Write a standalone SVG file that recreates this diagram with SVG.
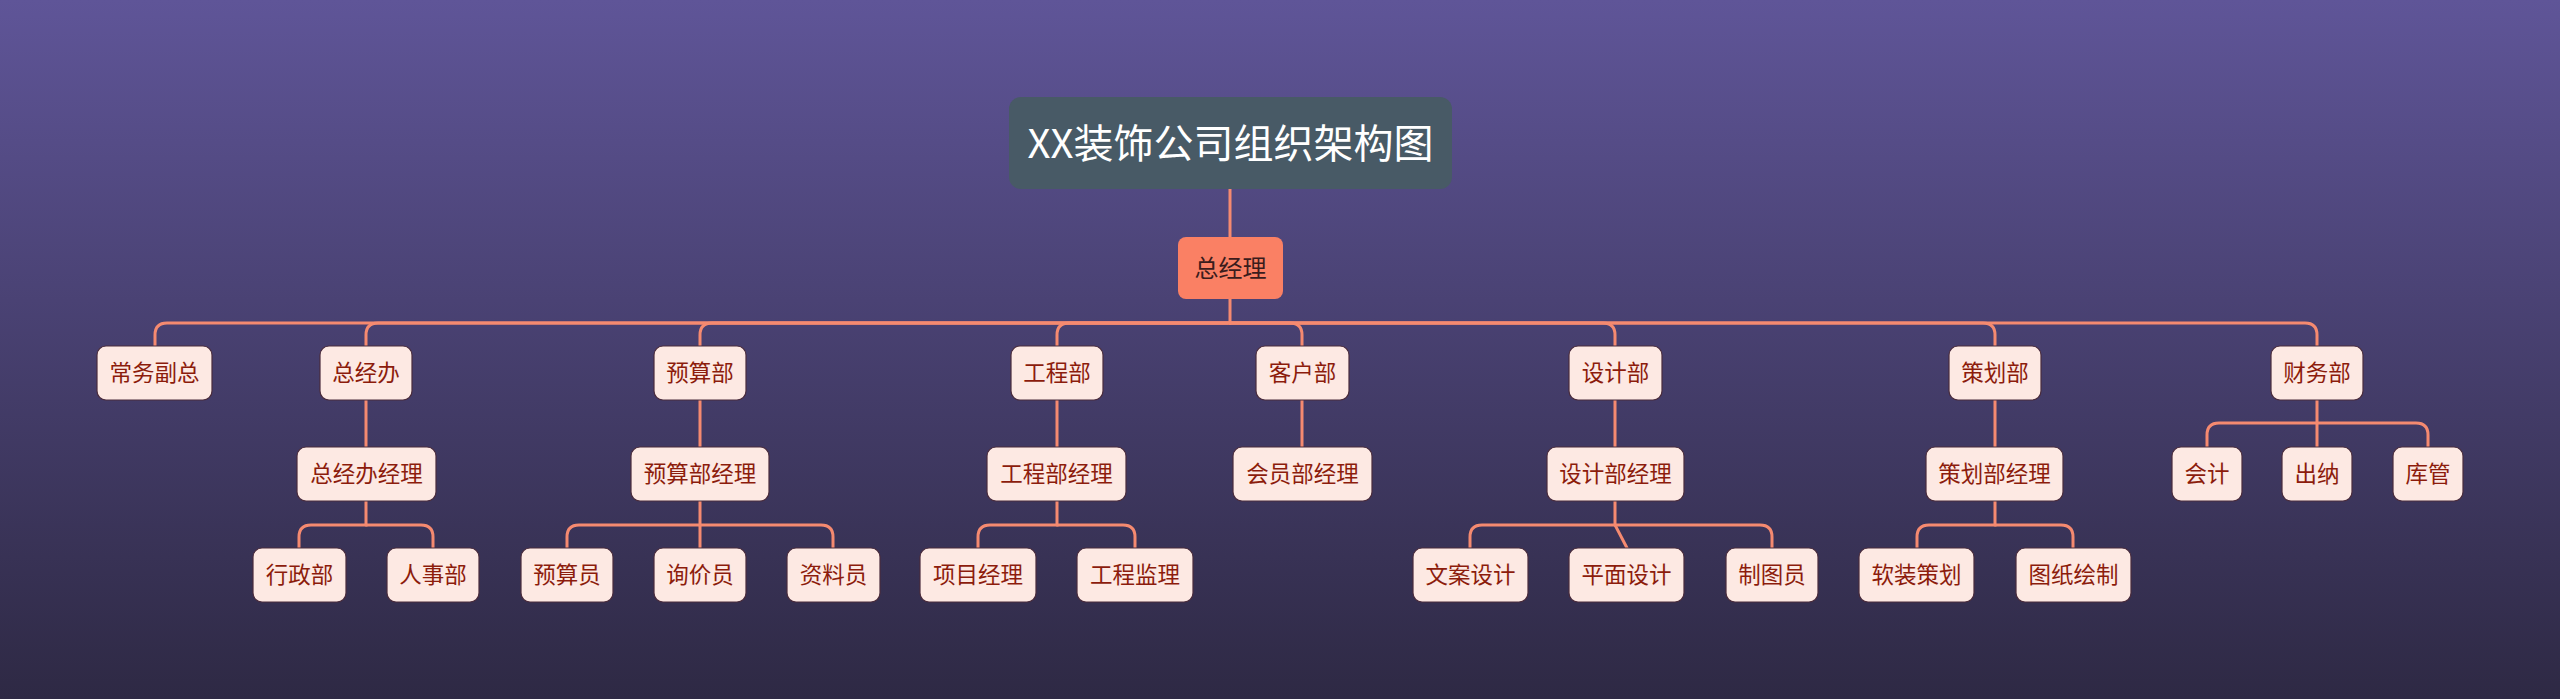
<svg xmlns="http://www.w3.org/2000/svg" width="2560" height="699" viewBox="0 0 2560 699">
<defs>
<linearGradient id="bg" x1="0" y1="0" x2="0" y2="1">
<stop offset="0" stop-color="#5f5598"/>
<stop offset="1" stop-color="#2e2944"/>
</linearGradient>
<style>
.n rect{fill:#fde9e3;stroke:#4a2c3c;stroke-width:1.2}
.n text{font-family:"Noto Sans CJK SC","Microsoft YaHei",sans-serif;font-size:22.5px;fill:#8c1c0c;text-anchor:middle}
.c path{fill:none;stroke:#f58a70;stroke-width:3;stroke-linecap:round}
</style>
</defs>
<rect x="0" y="0" width="2560" height="699" fill="url(#bg)"/>
<g class="c" id="connectors">
<path d="M1230 189 V237"/>
<path d="M1230 299 V323"/>
<path d="M1230 323 H167 Q155 323 155 335 V346"/>
<path d="M1230 323 H378 Q366 323 366 335 V346"/>
<path d="M1230 323 H712 Q700 323 700 335 V346"/>
<path d="M1230 323 H1069 Q1057 323 1057 335 V346"/>
<path d="M1230 323 H1290 Q1302 323 1302 335 V346"/>
<path d="M1230 323 H1603 Q1615 323 1615 335 V346"/>
<path d="M1230 323 H1983 Q1995 323 1995 335 V346"/>
<path d="M1230 323 H2305 Q2317 323 2317 335 V346"/>
<path d="M366 400 V447"/>
<path d="M700 400 V447"/>
<path d="M1057 400 V447"/>
<path d="M1302 400 V447"/>
<path d="M1615 400 V447"/>
<path d="M1995 400 V447"/>
<path d="M366 501 V525 H311 Q299 525 299 537 V548"/>
<path d="M366 525 H421 Q433 525 433 537 V548"/>
<path d="M700 501 V548"/>
<path d="M700 525 H579 Q567 525 567 537 V548"/>
<path d="M700 525 H821 Q833 525 833 537 V548"/>
<path d="M1057 501 V525 H990 Q978 525 978 537 V548"/>
<path d="M1057 525 H1123 Q1135 525 1135 537 V548"/>
<path d="M1615 501 V525 L1627 548"/>
<path d="M1615 525 H1482 Q1470 525 1470 537 V548"/>
<path d="M1615 525 H1760 Q1772 525 1772 537 V548"/>
<path d="M1995 501 V525 H1929 Q1917 525 1917 537 V548"/>
<path d="M1995 525 H2061 Q2073 525 2073 537 V548"/>
<path d="M2317 400 V447"/>
<path d="M2317 423 H2219 Q2207 423 2207 435 V447"/>
<path d="M2317 423 H2416 Q2428 423 2428 435 V447"/>
</g>
<g id="title">
<rect x="1009" y="97" width="443" height="92" rx="12" fill="#485a66"/>
<text x="1230.5" y="157.5" font-family="'Noto Sans CJK SC','Microsoft YaHei',sans-serif" font-size="40" fill="#ffffff" text-anchor="middle">XX装饰公司组织架构图</text>
</g>
<g id="ceo">
<rect x="1178" y="237" width="105" height="62" rx="8" fill="#fa8064"/>
<text x="1230.5" y="276.5" font-family="'Noto Sans CJK SC','Microsoft YaHei',sans-serif" font-size="24" fill="#3a1c1c" text-anchor="middle">总经理</text>
</g>
<g class="n" id="n-cwfz"><rect x="97" y="346" width="115" height="54" rx="9"/><text x="154.5" y="381">常务副总</text></g>
<g class="n" id="n-zjb"><rect x="320" y="346" width="92" height="54" rx="9"/><text x="366" y="381">总经办</text></g>
<g class="n" id="n-ysb"><rect x="654" y="346" width="92" height="54" rx="9"/><text x="700" y="381">预算部</text></g>
<g class="n" id="n-gcb"><rect x="1011" y="346" width="92" height="54" rx="9"/><text x="1057" y="381">工程部</text></g>
<g class="n" id="n-khb"><rect x="1256" y="346" width="93" height="54" rx="9"/><text x="1302.5" y="381">客户部</text></g>
<g class="n" id="n-sjb"><rect x="1569" y="346" width="93" height="54" rx="9"/><text x="1615.5" y="381">设计部</text></g>
<g class="n" id="n-chb"><rect x="1949" y="346" width="92" height="54" rx="9"/><text x="1995" y="381">策划部</text></g>
<g class="n" id="n-cwb"><rect x="2271" y="346" width="92" height="54" rx="9"/><text x="2317" y="381">财务部</text></g>
<g class="n" id="n-zjbjl"><rect x="297" y="447" width="139" height="54" rx="9"/><text x="366.5" y="482">总经办经理</text></g>
<g class="n" id="n-ysbjl"><rect x="631" y="447" width="138" height="54" rx="9"/><text x="700" y="482">预算部经理</text></g>
<g class="n" id="n-gcbjl"><rect x="987" y="447" width="139" height="54" rx="9"/><text x="1056.5" y="482">工程部经理</text></g>
<g class="n" id="n-hybjl"><rect x="1233" y="447" width="139" height="54" rx="9"/><text x="1302.5" y="482">会员部经理</text></g>
<g class="n" id="n-sjbjl"><rect x="1547" y="447" width="137" height="54" rx="9"/><text x="1615.5" y="482">设计部经理</text></g>
<g class="n" id="n-chbjl"><rect x="1926" y="447" width="137" height="54" rx="9"/><text x="1994.5" y="482">策划部经理</text></g>
<g class="n" id="n-kj"><rect x="2172" y="447" width="70" height="54" rx="9"/><text x="2207" y="482">会计</text></g>
<g class="n" id="n-cn"><rect x="2282" y="447" width="70" height="54" rx="9"/><text x="2317" y="482">出纳</text></g>
<g class="n" id="n-kg"><rect x="2393" y="447" width="70" height="54" rx="9"/><text x="2428" y="482">库管</text></g>
<g class="n" id="n-xzb"><rect x="253" y="548" width="93" height="54" rx="9"/><text x="299.5" y="583">行政部</text></g>
<g class="n" id="n-rsb"><rect x="387" y="548" width="92" height="54" rx="9"/><text x="433" y="583">人事部</text></g>
<g class="n" id="n-ysy"><rect x="521" y="548" width="92" height="54" rx="9"/><text x="567" y="583">预算员</text></g>
<g class="n" id="n-xjy"><rect x="654" y="548" width="92" height="54" rx="9"/><text x="700" y="583">询价员</text></g>
<g class="n" id="n-zly"><rect x="787" y="548" width="93" height="54" rx="9"/><text x="833.5" y="583">资料员</text></g>
<g class="n" id="n-xmjl"><rect x="920" y="548" width="116" height="54" rx="9"/><text x="978" y="583">项目经理</text></g>
<g class="n" id="n-gcjl"><rect x="1077" y="548" width="116" height="54" rx="9"/><text x="1135" y="583">工程监理</text></g>
<g class="n" id="n-wasj"><rect x="1413" y="548" width="115" height="54" rx="9"/><text x="1470.5" y="583">文案设计</text></g>
<g class="n" id="n-pmsj"><rect x="1569" y="548" width="115" height="54" rx="9"/><text x="1626.5" y="583">平面设计</text></g>
<g class="n" id="n-zty"><rect x="1726" y="548" width="92" height="54" rx="9"/><text x="1772" y="583">制图员</text></g>
<g class="n" id="n-rzch"><rect x="1859" y="548" width="115" height="54" rx="9"/><text x="1916.5" y="583">软装策划</text></g>
<g class="n" id="n-tzhz"><rect x="2016" y="548" width="115" height="54" rx="9"/><text x="2073.5" y="583">图纸绘制</text></g>
</svg>
